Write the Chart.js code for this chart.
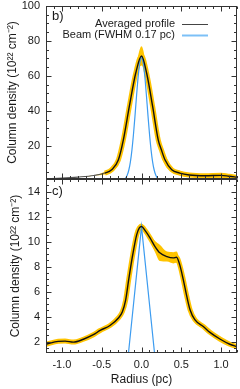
<!DOCTYPE html>
<html>
<head>
<meta charset="utf-8">
<script src="https://cdn.jsdelivr.net/npm/chart.js@4.4.0/dist/chart.umd.min.js"></script>
<style>
  html, body { margin: 0; padding: 0; background: #fff; }
  #wrap { position: relative; width: 240px; height: 389px; }
  #chartB { position: absolute; left: 0; top: 0; width: 240px; height: 180px; }
  #chartC { position: absolute; left: 0; top: 179px; width: 240px; height: 210px; }
</style>
</head>
<body>
<div id="wrap">
  <canvas id="chartB" width="240" height="180"></canvas>
  <canvas id="chartC" width="240" height="210"></canvas>
</div>
<script>
// panel b) - averaged profile, error band and beam
const radiusB  = [-1.2, -1.0, -0.8, -0.6, -0.46, -0.375, -0.29, -0.228, -0.153, -0.073, 0, 0.065, 0.14, 0.21, 0.25, 0.295, 0.38, 0.48, 0.6, 0.8, 1.0, 1.1, 1.2];
const profileB = [1.1, 1.5, 2.1, 3.0, 4.4, 6.3, 12, 23.4, 42.5, 61.5, 71.4, 61.5, 42.5, 23.4, 17.7, 12, 6.3, 4.4, 3.3, 2.9, 3.1, 2.6, 2.0];
const errorB   = [0, 0, 0, 0, 0.8, 1.2, 1.8, 2, 2.5, 3, 5.5, 3, 2.5, 2.5, 3.5, 3, 1.5, 1.2, 1, 0.8, 1.3, 1, 0.6];

const beamRadiusB = [-0.22, -0.2, -0.18, -0.16, -0.14, -0.12, -0.1, -0.08, -0.06, -0.04, -0.02, 0, 0.02, 0.04, 0.06, 0.08, 0.1, 0.12, 0.14, 0.16, 0.18, 0.2, 0.22];
const beamB       = [0.7, 1.5, 3.1, 6.0, 10.7, 17.7, 27, 38.1, 49.9, 60.5, 67.8, 70.5, 67.8, 60.5, 49.9, 38.1, 27, 17.7, 10.7, 6.0, 3.1, 1.5, 0.7];

// panel c)
const radiusC  = [-1.2, -1.045, -0.96, -0.857, -0.73, -0.605, -0.52, -0.396, -0.29, -0.24, -0.2, -0.16, -0.11, -0.06, -0.027, 0, 0.044, 0.107, 0.17, 0.23, 0.32, 0.4, 0.44, 0.48, 0.525, 0.57, 0.61, 0.67, 0.78, 0.86, 0.99, 1.11, 1.2];
const profileC = [1.8, 2.03, 2.05, 1.97, 2.2, 2.56, 2.9, 3.3, 3.9, 4.4, 5.3, 7.0, 8.96, 10.56, 11.1, 11.2, 10.9, 10.3, 9.6, 9.1, 8.8, 8.7, 8.75, 8.16, 6.96, 5.6, 4.56, 3.76, 3.2, 2.75, 2.2, 1.8, 1.6];
const errorC   = [0.1, 0.12, 0.15, 0.12, 0.15, 0.1, 0.1, 0.1, 0.12, 0.2, 0.25, 0.25, 0.25, 0.25, 0.25, 0.25, 0.2, 0.25, 0.45, 0.65, 0.4, 0.45, 0.45, 0.35, 0.3, 0.25, 0.2, 0.2, 0.15, 0.12, 0.1, 0.08, 0.05];

const beamRadiusC = [-0.17, 0, 0.17];
const beamC       = [0.7, 11.2, 0.7];

// axis ticks
const xTicks  = [-1.0, -0.5, 0, 0.5, 1.0];
const yTicksB = [20, 40, 60, 80, 100];
const yTicksC = [2, 4, 6, 8, 10, 12, 14];

const yTitle = 'Column density (10\u00B2\u00B2 cm\u207B\u00B2)';
const fontFamily = "'Liberation Sans', Arial, Helvetica, sans-serif";
const textColor = '#1a1a1a';
const bandColor = 'rgb(255, 196, 0)';
const beamColor = '#3d9cf0';
const clear = 'rgba(0,0,0,0)';

//===============================================

function toPoints(xs, ys) {
    return xs.map((x, i) => ({ x: x, y: ys[i] }));
}

function bandPoints(xs, ys, err, sign) {
    return xs.map((x, i) => ({ x: x, y: ys[i] + sign * err[i] }));
}

function buildDatasets(radius, profile, error, beamR, beam, smoothBeam) {
    // segment has an error estimate only if both ends do
    const hasErr = c => error[c.p0DataIndex] > 0 && error[c.p1DataIndex] > 0;
    return [
        {
            label: 'Averaged profile',
            data: toPoints(radius, profile),
            borderColor: '#111',
            borderWidth: 1.4,
            pointRadius: 0,
            cubicInterpolationMode: 'monotone',
            fill: false,
            segment: {
                borderColor: c => hasErr(c) ? '#111' : '#555',
                borderWidth: c => hasErr(c) ? 1.4 : 1.1
            },
            order: 0
        },
        {
            label: 'Beam (FWHM 0.17 pc)',
            data: toPoints(beamR, beam),
            borderColor: beamColor,
            borderWidth: 1.2,
            pointRadius: 0,
            cubicInterpolationMode: smoothBeam ? 'monotone' : 'default',
            tension: 0,
            fill: false,
            order: 1
        },
        {
            // yellow tube along the profile wherever it has an error
            label: 'halo',
            data: toPoints(radius, profile),
            borderColor: bandColor,
            borderWidth: 5,
            pointRadius: 0,
            cubicInterpolationMode: 'monotone',
            fill: false,
            segment: { borderColor: c => hasErr(c) ? bandColor : clear },
            order: 2
        },
        {
            label: 'upper',
            data: bandPoints(radius, profile, error, 1),
            borderWidth: 0,
            pointRadius: 0,
            cubicInterpolationMode: 'monotone',
            backgroundColor: bandColor,
            fill: '+1',
            order: 3
        },
        {
            label: 'lower',
            data: bandPoints(radius, profile, error, -1),
            borderWidth: 0,
            pointRadius: 0,
            cubicInterpolationMode: 'monotone',
            fill: false,
            order: 4
        }
    ];
}

// Box around the plot with inward ticks on all four sides
const framePlugin = {
    id: 'frame',
    afterDraw(chart, args, opts) {
        const { ctx, chartArea: a, scales } = chart;
        const L = Math.round(a.left) + 0.5, R = Math.round(a.right) - 0.5;
        const T = Math.round(a.top) + 0.5, B = Math.round(a.bottom) - 0.5;
        ctx.save();
        ctx.strokeStyle = '#333';
        ctx.lineWidth = 1;
        ctx.strokeRect(L, T, R - L, B - T);
        ctx.beginPath();
        // x ticks every 0.1, major every 0.5
        for (let i = -12; i <= 12; i++) {
            const px = Math.round(scales.x.getPixelForValue(i / 10)) + 0.5;
            const len = i % 5 === 0 ? 5 : 2.5;
            ctx.moveTo(px, B); ctx.lineTo(px, B - len);
            ctx.moveTo(px, T); ctx.lineTo(px, T + len);
        }
        // y ticks
        const y = scales.y;
        for (let v = opts.minorStep; v <= y.max; v += opts.minorStep) {
            if (v < y.min) continue;
            const py = Math.round(y.getPixelForValue(v)) + 0.5;
            const major = Math.abs(v / opts.majorStep - Math.round(v / opts.majorStep)) < 1e-6;
            const len = major ? 5 : 2.5;
            ctx.moveTo(L, py); ctx.lineTo(L + len, py);
            ctx.moveTo(R, py); ctx.lineTo(R - len, py);
        }
        ctx.stroke();

        // panel letter
        ctx.fillStyle = textColor;
        ctx.font = '13px ' + fontFamily;
        ctx.textAlign = 'left';
        ctx.textBaseline = 'middle';
        ctx.fillText(opts.letter, a.left + 6, a.top + opts.letterDy);

        // legend: text on the left, line sample on the right
        if (opts.legend) {
            ctx.font = '11px ' + fontFamily;
            ctx.textAlign = 'right';
            const shown = chart.data.datasets.slice(0, 2);
            shown.forEach((ds, i) => {
                const ly = a.top + 18 + i * 10.5;
                ctx.fillStyle = textColor;
                ctx.fillText(ds.label, a.right - 62, ly);
                ctx.beginPath();
                ctx.strokeStyle = i === 0 ? '#444' : '#7cc0f7';
                ctx.lineWidth = i === 0 ? 1 : 2;
                ctx.moveTo(a.right - 55, Math.round(ly) + 0.5);
                ctx.lineTo(a.right - 29, Math.round(ly) + 0.5);
                ctx.stroke();
            });
        }
        ctx.restore();
    }
};

function yScale(min, max, ticks, titlePad) {
    return {
        type: 'linear',
        min: min,
        max: max,
        grid: { display: false, drawTicks: false },
        border: { display: false },
        ticks: { font: { family: fontFamily, size: 11 }, color: textColor, padding: 6 },
        afterBuildTicks: s => { s.ticks = ticks.map(v => ({ value: v })); },
        afterFit: s => { s.width = 46; s.paddingTop = 0; s.paddingBottom = 0; },
        title: {
            display: true,
            text: yTitle,
            font: { family: fontFamily, size: 12 },
            color: textColor,
            padding: { top: titlePad, bottom: 0 }
        }
    };
}

const commonPlugins = {
    legend: { display: false },
    tooltip: { enabled: false }
};

const chartB = new Chart(document.getElementById('chartB').getContext('2d'), {
    type: 'line',
    data: { datasets: buildDatasets(radiusB, profileB, errorB, beamRadiusB, beamB, true) },
    options: {
        responsive: false,
        animation: false,
        layout: { padding: { left: 0, right: 3, top: 6, bottom: 1 } },
        scales: {
            x: { type: 'linear', min: -1.2, max: 1.2, display: false },
            y: yScale(1, 100, yTicksB, 5)
        },
        plugins: Object.assign({}, commonPlugins, {
            frame: { minorStep: 5, majorStep: 20, letter: 'b)', letterDy: 10, legend: true }
        })
    },
    plugins: [framePlugin]
});

const chartC = new Chart(document.getElementById('chartC').getContext('2d'), {
    type: 'line',
    data: { datasets: buildDatasets(radiusC, profileC, errorC, beamRadiusC, beamC, false) },
    options: {
        responsive: false,
        animation: false,
        layout: { padding: { left: 0, right: 3, top: 0, bottom: 0 } },
        scales: {
            x: {
                type: 'linear',
                min: -1.2,
                max: 1.2,
                grid: { display: false, drawTicks: false },
                border: { display: false },
                ticks: {
                    font: { family: fontFamily, size: 11 },
                    color: textColor,
                    padding: 5,
                    maxRotation: 0,
                    callback: v => v.toFixed(1)
                },
                afterBuildTicks: s => { s.ticks = xTicks.map(v => ({ value: v })); },
                afterFit: s => { s.height = 36; s.paddingLeft = 0; s.paddingRight = 0; },
                title: {
                    display: true,
                    text: 'Radius (pc)',
                    font: { family: fontFamily, size: 12 },
                    color: textColor,
                    padding: { top: 0, bottom: 2 }
                }
            },
            y: yScale(1.1, 15, yTicksC, 8)
        },
        plugins: Object.assign({}, commonPlugins, {
            frame: { minorStep: 0.5, majorStep: 2, letter: 'c)', letterDy: 12, legend: false }
        })
    },
    plugins: [framePlugin]
});
</script>
</body>
</html>
